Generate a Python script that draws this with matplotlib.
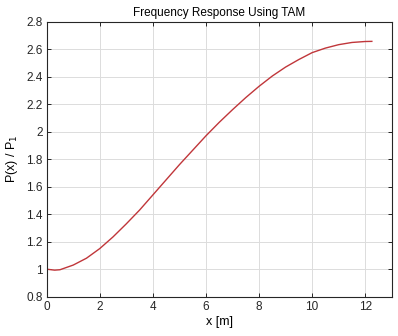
import matplotlib
matplotlib.use('Agg')
import matplotlib.pyplot as plt
from matplotlib.ticker import FuncFormatter

# values
x_m = [0, 0.3, 0.5, 1, 1.5, 2, 2.5, 3, 3.5, 4, 4.5, 5, 5.5, 6, 6.5, 7, 7.5,
       8, 8.5, 9, 9.5, 10, 10.5, 11, 11.5, 12, 12.25]
p_ratio = [1.0, 0.993, 0.996, 1.03, 1.08, 1.15, 1.235, 1.33, 1.43, 1.54,
           1.65, 1.76, 1.865, 1.97, 2.068, 2.16, 2.248, 2.33, 2.405, 2.47,
           2.525, 2.575, 2.608, 2.633, 2.649, 2.656, 2.657]

xticks = [0, 2, 4, 6, 8, 10, 12]
yticks = [0.8, 1.0, 1.2, 1.4, 1.6, 1.8, 2.0, 2.2, 2.4, 2.6, 2.8]

plt.rcParams['font.family'] = ['Liberation Sans', 'DejaVu Sans']

fig = plt.figure(figsize=(3.98, 3.36), dpi=100)
ax = fig.add_axes([0.1173, 0.117, 0.867, 0.8184])

ax.plot(x_m, p_ratio, color='#c0363a', lw=1.0)

ax.set_xlim(0, 13)
ax.set_ylim(0.8, 2.8)
ax.set_xticks(xticks)
ax.set_yticks(yticks)
ax.yaxis.set_major_formatter(FuncFormatter(lambda v, p: f'{v:g}'))
ax.grid(True, color='#dcdcdc', lw=0.7)
ax.set_axisbelow(True)
ax.tick_params(direction='in', length=3, width=0.7, top=True, right=True,
               labelsize=8.5, colors='#262626', pad=3)
for s in ax.spines.values():
    s.set_color('#262626')
    s.set_linewidth(0.8)

ax.set_title('Frequency Response Using TAM', fontsize=8.5, pad=4)
ax.set_xlabel('x [m]', fontsize=9, labelpad=2)
ax.set_ylabel('P(x) / P$_1$', fontsize=9, labelpad=4)

fig.savefig('out.png', dpi=100)
